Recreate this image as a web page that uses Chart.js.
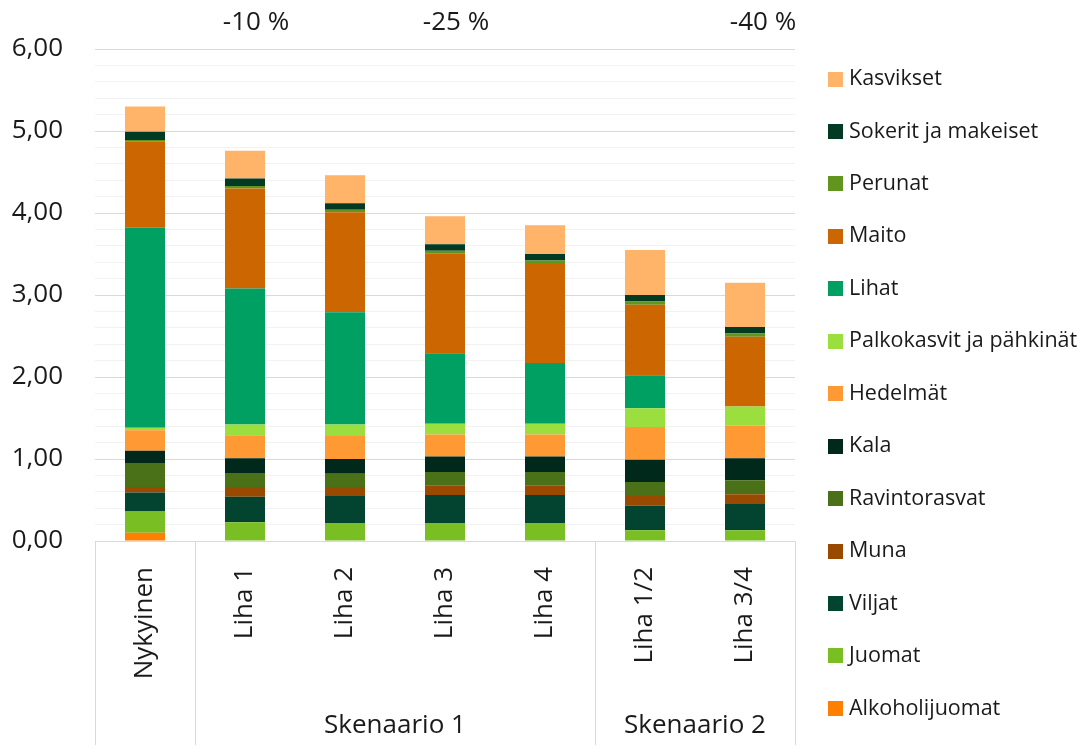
<!DOCTYPE html>
<html>
<head>
<meta charset="utf-8">
<title>Ruokavalion skenaariot</title>
<script src="https://cdn.jsdelivr.net/npm/chart.js@4/dist/chart.umd.min.js"></script>
<style>
  html, body { margin: 0; padding: 0; background: #ffffff; }
  #wrap { position: relative; width: 1091px; height: 745px; }
</style>
</head>
<body>
<div id="wrap"><canvas id="dietChart" width="1091" height="745"></canvas></div>
<script>
// Categories and groups
const categories = ['Nykyinen', 'Liha 1', 'Liha 2', 'Liha 3', 'Liha 4', 'Liha 1/2', 'Liha 3/4'];
const groupLabels = ['', 'Skenaario 1', 'Skenaario 2'];
const groupStarts = [0, 1, 5];
const reductionLabels = ['-10 %', '-25 %', '-40 %'];
const reductionAt = [1, 3, 6];

// Series values, bottom to top
const alkoholijuomat = [0.10, 0, 0, 0, 0, 0, 0];
const juomat = [0.26, 0.23, 0.22, 0.22, 0.22, 0.13, 0.13];
const viljat = [0.23, 0.31, 0.33, 0.34, 0.34, 0.30, 0.33];
const muna = [0.07, 0.12, 0.11, 0.12, 0.12, 0.12, 0.11];
const ravintorasvat = [0.29, 0.17, 0.16, 0.16, 0.16, 0.17, 0.17];
const kala = [0.15, 0.18, 0.18, 0.19, 0.19, 0.27, 0.27];
const hedelmat = [0.25, 0.28, 0.28, 0.27, 0.27, 0.40, 0.40];
const palkokasvit = [0.03, 0.13, 0.14, 0.13, 0.13, 0.23, 0.23];
const lihat = [2.44, 1.66, 1.37, 0.86, 0.74, 0.40, 0];
const maito = [1.05, 1.22, 1.22, 1.22, 1.22, 0.86, 0.85];
const perunat = [0.02, 0.03, 0.03, 0.03, 0.03, 0.04, 0.04];
const sokerit = [0.10, 0.09, 0.08, 0.08, 0.08, 0.08, 0.08];
const kasvikset = [0.31, 0.34, 0.34, 0.34, 0.35, 0.55, 0.54];

const seriesNames = ['Alkoholijuomat', 'Juomat', 'Viljat', 'Muna', 'Ravintorasvat', 'Kala', 'Hedelmät',
    'Palkokasvit ja pähkinät', 'Lihat', 'Maito', 'Perunat', 'Sokerit ja makeiset', 'Kasvikset'];
const seriesValues = [alkoholijuomat, juomat, viljat, muna, ravintorasvat, kala, hedelmat,
    palkokasvit, lihat, maito, perunat, sokerit, kasvikset];
const seriesColors = ['#ff8000', '#79be22', '#034430', '#9a4a00', '#4a7117', '#00291b', '#ff9933',
    '#9adf3e', '#00a063', '#cc6600', '#62951e', '#023a24', '#ffb469'];

const FONT = '"Open Sans", "Noto Sans", sans-serif';
const TEXT = '#1a1a1a';
const LINE = '#d9d9d9';

const isWhole = v => Math.abs(v - Math.round(v)) < 1e-6;

// Group separators and labels under the x axis
const groupAxisPlugin = {
    id: 'groupAxis',
    afterDraw(chart) {
        const { ctx, chartArea, scales } = chart;
        const x = scales.x;
        const bottom = chart.height;
        const edges = groupStarts.map(i => i === 0 ? x.left :
            (x.getPixelForValue(i - 1) + x.getPixelForValue(i)) / 2);
        edges.push(x.right);

        ctx.save();
        ctx.strokeStyle = LINE;
        ctx.lineWidth = 1;
        edges.forEach(px => {
            const xx = Math.round(px) + 0.5;
            ctx.beginPath();
            ctx.moveTo(xx, chartArea.bottom);
            ctx.lineTo(xx, bottom);
            ctx.stroke();
        });

        ctx.fillStyle = TEXT;
        ctx.font = '26px ' + FONT;
        ctx.textAlign = 'center';
        ctx.textBaseline = 'middle';
        groupLabels.forEach((label, i) => {
            if (!label) return;
            ctx.fillText(label, (edges[i] + edges[i + 1]) / 2, 726);
        });

        // Reduction notes above the bars
        reductionLabels.forEach((label, i) => {
            const px = x.getPixelForValue(reductionAt[i]) + (i === 2 ? 18 : 11);
            ctx.fillText(label, px, 23);
        });
        ctx.restore();
    }
};

// Legend drawn on the right, top item last dataset
const sideLegendPlugin = {
    id: 'sideLegend',
    afterDraw(chart) {
        const { ctx } = chart;
        const sets = chart.data.datasets.slice().reverse();
        ctx.save();
        ctx.font = '21.5px ' + FONT;
        ctx.textBaseline = 'middle';
        ctx.textAlign = 'left';
        sets.forEach((ds, i) => {
            const y = 79 + i * 52.45;
            ctx.fillStyle = ds.backgroundColor;
            ctx.fillRect(828, Math.round(y - 7.5), 15, 15);
            ctx.fillStyle = TEXT;
            ctx.fillText(ds.label, 849, y);
        });
        ctx.restore();
    }
};

const datasets = seriesNames.map((name, i) => ({
    label: name,
    data: seriesValues[i],
    backgroundColor: seriesColors[i],
    borderWidth: 0,
    barPercentage: 0.4,
    categoryPercentage: 1.0
}));

new Chart(document.getElementById('dietChart'), {
    type: 'bar',
    data: {
        labels: categories,
        datasets: datasets
    },
    options: {
        responsive: false,
        animation: false,
        layout: {
            padding: { top: 49, right: 296, bottom: 0, left: 0 }
        },
        plugins: {
            legend: { display: false },
            tooltip: { enabled: false }
        },
        scales: {
            x: {
                stacked: true,
                grid: { display: false },
                border: { display: false },
                ticks: {
                    autoSkip: false,
                    maxRotation: 90,
                    minRotation: 90,
                    padding: 18,
                    color: TEXT,
                    font: { family: FONT, size: 26 }
                },
                afterFit(scale) { scale.height = 204; }
            },
            y: {
                stacked: true,
                min: 0,
                max: 6,
                grid: {
                    drawTicks: false,
                    color: c => isWhole(c.tick.value) ? LINE : '#f2f2f2',
                    lineWidth: 1
                },
                border: { display: false },
                ticks: {
                    stepSize: 0.2,
                    maxTicksLimit: 31,
                    autoSkip: false,
                    padding: 32,
                    color: TEXT,
                    font: { family: FONT, size: 26 },
                    callback: v => isWhole(v) ? Number(v).toFixed(2).replace('.', ',') : ''
                },
                afterFit(scale) { scale.width = 95; }
            }
        }
    },
    plugins: [groupAxisPlugin, sideLegendPlugin]
});
</script>
</body>
</html>
